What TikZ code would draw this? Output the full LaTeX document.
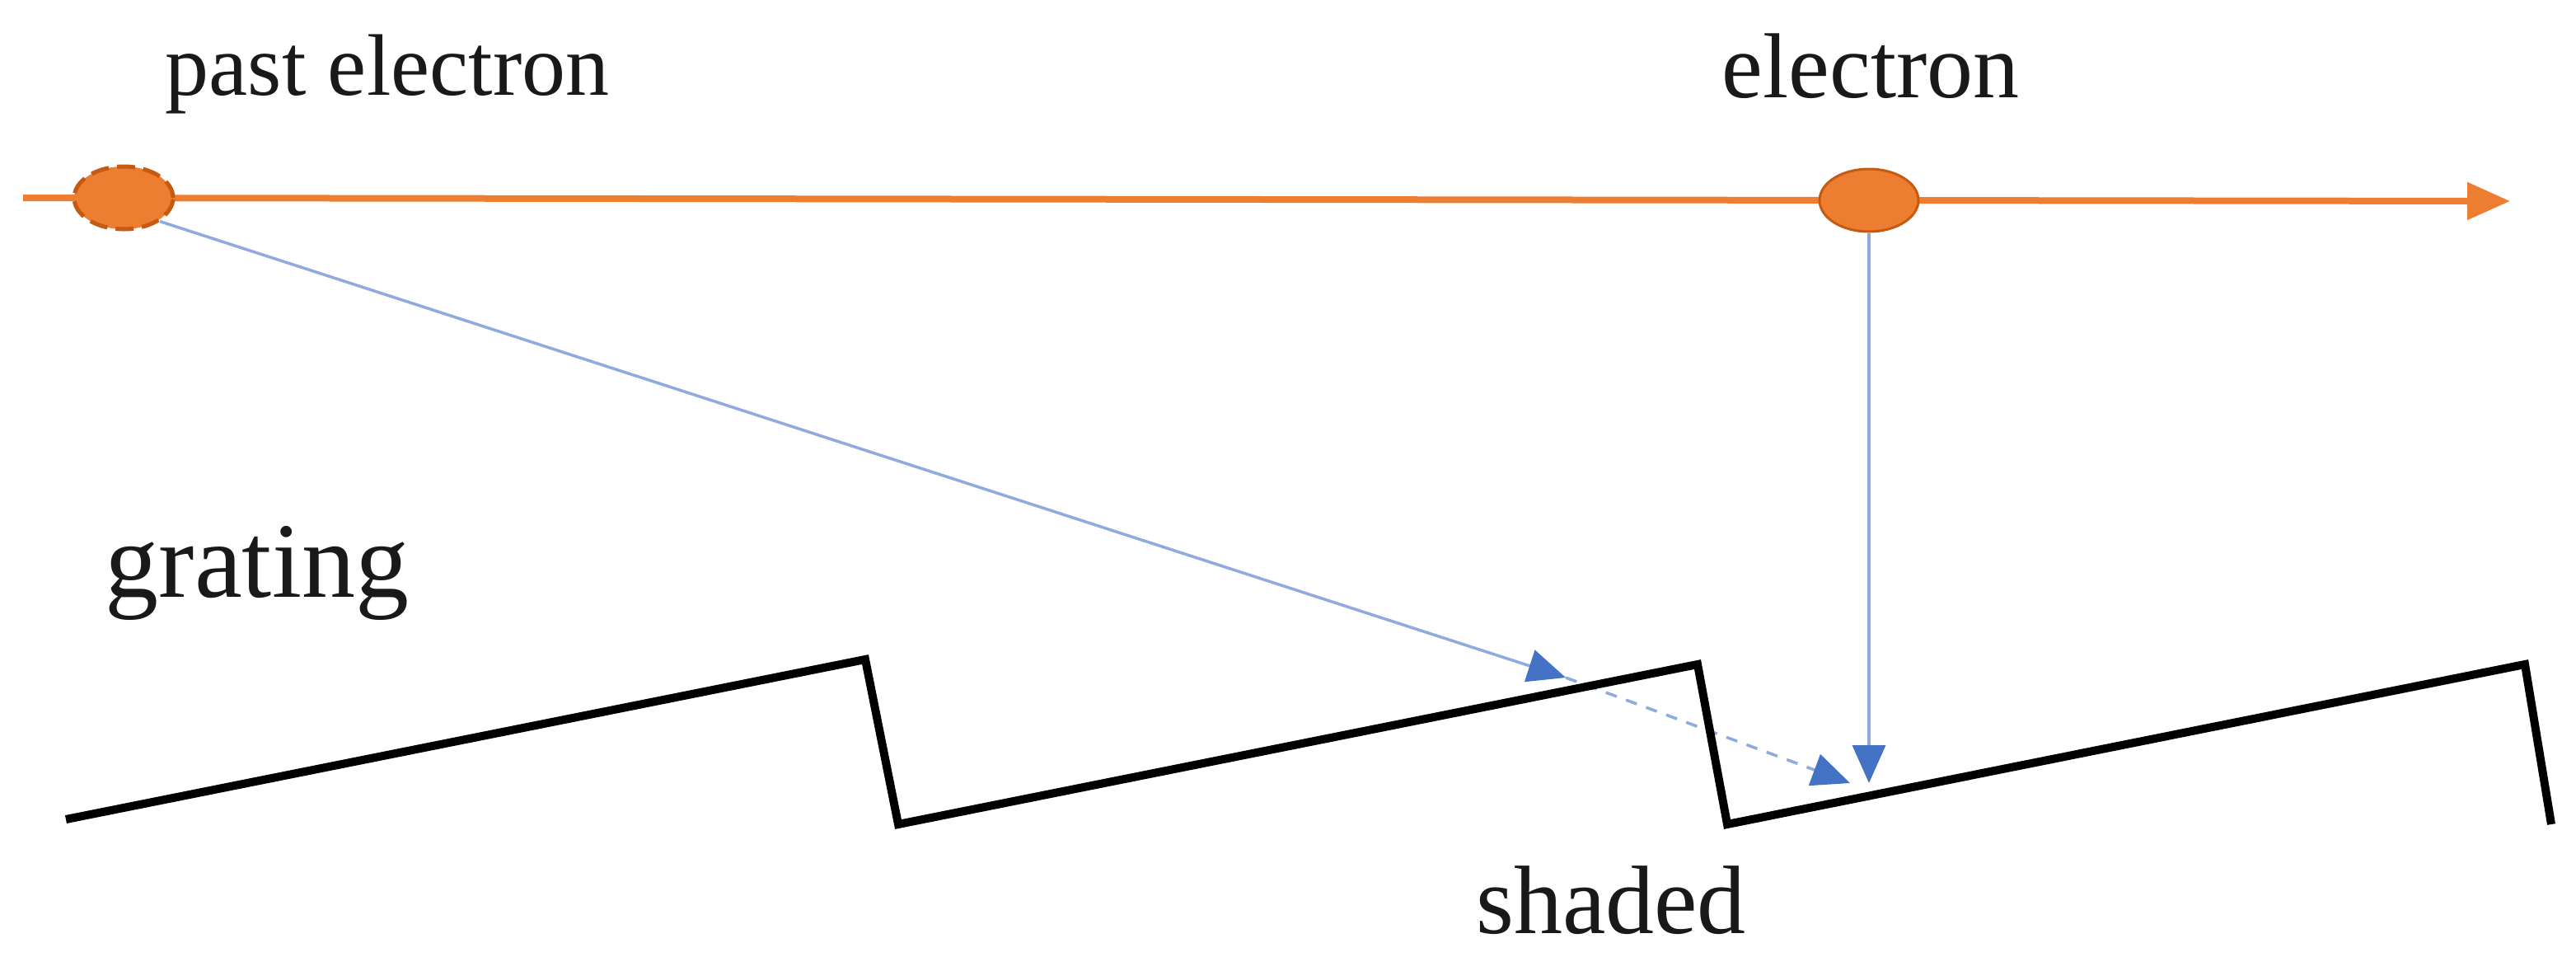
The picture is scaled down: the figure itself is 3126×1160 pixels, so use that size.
\documentclass[tikz,border=0pt]{standalone}
\usepackage{fontspec}
\setmainfont{Liberation Serif}
\usetikzlibrary{arrows.meta,shapes.geometric}
\definecolor{eorange}{HTML}{ED7D31}
\definecolor{edark}{HTML}{C55A11}
\definecolor{rayline}{HTML}{8FAADC}
\definecolor{rayhead}{HTML}{4472C4}
\begin{document}
\begin{tikzpicture}[x=1pt,y=-1pt,
  el/.style={ellipse,draw=edark,fill=eorange,minimum width=120pt,minimum height=76pt,line width=3pt,inner sep=0pt},
  ray/.style={draw=rayline,line width=3.5pt,-{Triangle[length=46pt,width=40pt,fill=rayhead,color=rayhead]}},
  lbl/.style={font=\fontsize{106}{110}\selectfont,text=black!90}]
\useasboundingbox (0,0) rectangle (3126,1160);
\coordinate (ls) at (28,240);
\coordinate (le) at (3046,244);
\draw[eorange,line width=8pt,-{Triangle[length=52pt,width=44pt]}] (ls) -- (le);
\node[el,line width=5pt,dash pattern=on 22pt off 10pt] (pe) at (150,240) {};
\node[el] (e) at (2268,243) {};
\coordinate (hit) at (1900,822);
\coordinate (sh) at (2245,950);
\coordinate (vt) at (2268,950);
\draw[ray] (pe.south east) -- (hit);
\draw[ray,dash pattern=on 14pt off 12pt] (hit) -- (sh);
\draw[ray] (e.south) -- (vt);
\draw[line width=10pt,line join=miter] (80,994) -- (1050,800) -- (1090,1000) -- (2060,806) -- (2096,1000) -- (3064,806) -- (3096,1000);
\node[lbl] (tpe) at (470,90) {past electron};
\node[lbl,font=\fontsize{112}{116}\selectfont] (te) at (2270,80) {electron};
\node[lbl,font=\fontsize{130}{134}\selectfont] (tg) at (312,695) {grating};
\node[lbl,font=\fontsize{118}{122}\selectfont] (ts) at (1955,1092) {shaded};
\end{tikzpicture}
\end{document}
